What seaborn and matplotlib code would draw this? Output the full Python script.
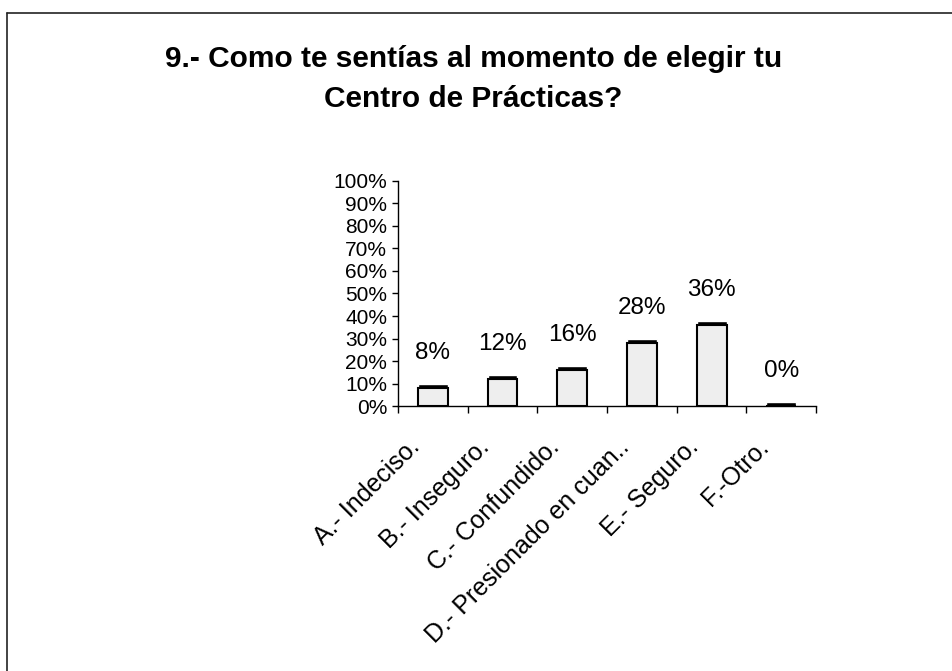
import matplotlib
matplotlib.use("Agg")
import matplotlib.pyplot as plt
from matplotlib.lines import Line2D
import numpy as np
import pandas as pd
import seaborn as sns

# -----------------------------
# Data
# -----------------------------
categories = ["A.- Indeciso.", "B.- Inseguro.", "C.- Confundido.",
              "D.- Presionado en cuan..", "E.- Seguro.", "F.-Otro."]
percentages = [8, 12, 16, 28, 36, 0]
y_ticks = list(range(0, 101, 10))
y_tick_labels = [f"{t}%" for t in y_ticks]
title_lines = ["9.- Como te sentías al momento de elegir tu", "Centro de Prácticas?"]

depth = 2.0  # black top band, imitates the 3D depth of the original bars

# -----------------------------
# Style
# -----------------------------
sns.set_theme(style="white")
plt.rcParams['font.family'] = ['Liberation Sans', 'DejaVu Sans']

df = pd.DataFrame({"categoria": categories, "pct": percentages})
df["tope"] = df["pct"] + depth

fig = plt.figure(figsize=(9.53, 6.71), dpi=100)
ax = fig.add_axes([0.4176, 0.3949, 0.4387, 0.3354])

# depth band first, body on top
sns.barplot(data=df, x="categoria", y="tope", color="black", width=0.43,
            saturation=1, ax=ax)
sns.barplot(data=df, x="categoria", y="pct", color="#eeeeee", edgecolor="black",
            linewidth=1.5, width=0.43, saturation=1, ax=ax)

# data labels
for i, v in enumerate(df["pct"]):
    ax.annotate(f"{v}%", (i, v + depth), xytext=(0, 22), textcoords="offset points",
                ha="center", va="center", fontsize=17.5, color="black")

# axes
n = len(categories)
ax.set_xlim(-0.5, n - 0.5)
ax.set_ylim(0, 100)
ax.set_yticks(y_ticks, y_tick_labels)
ax.set_xticks(np.arange(n + 1) - 0.5, [""] * (n + 1))
ax.set_xticks(np.arange(n) - 0.24, categories, minor=True)
ax.set_xlabel("")
ax.set_ylabel("")

ax.tick_params(axis="y", left=True, length=4.3, width=1, color="black",
               pad=3.6, labelsize=15, labelcolor="black")
ax.tick_params(axis="x", which="major", bottom=True, length=5, width=1, color="black")
ax.tick_params(axis="x", which="minor", bottom=True, length=0, pad=27,
               labelsize=18, labelcolor="black")
for lbl in ax.get_xticklabels(minor=True):
    lbl.set_rotation(45)
    lbl.set_ha("right")
    lbl.set_va("center")
    lbl.set_rotation_mode("anchor")

sns.despine(ax=ax)
for side in ["left", "bottom"]:
    ax.spines[side].set_color("black")
    ax.spines[side].set_linewidth(1)

# title
fig.text(0.497, 0.9001, title_lines[0], ha="center", va="baseline",
         fontsize=21.5, fontweight="bold", color="black")
fig.text(0.497, 0.8405, title_lines[1], ha="center", va="baseline",
         fontsize=21.5, fontweight="bold", color="black")

# chart area frame (only left and top edges visible in the original)
fig.add_artist(Line2D([0.0073, 0.0073], [0, 0.9806], transform=fig.transFigure,
                      color="#222222", linewidth=1.2))
fig.add_artist(Line2D([0.0073, 1], [0.9806, 0.9806], transform=fig.transFigure,
                      color="#222222", linewidth=1.2))

fig.savefig("out.png", dpi=100, facecolor="white")
